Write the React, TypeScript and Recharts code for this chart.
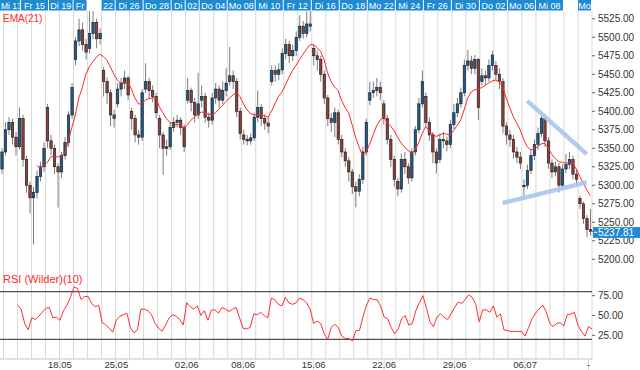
import React from 'react';
import { ComposedChart, Bar, Line, XAxis, YAxis, CartesianGrid, ReferenceLine } from 'recharts';

// ---- candle data (4 candles per trading day, first candle = end of Mi 13) ----
const opens = [
  5322, 5345, 5375, 5385, 5365, 5352, 5390, 5335, 5300, 5283,
  5290, 5312, 5325, 5405, 5360, 5350, 5325, 5318, 5340, 5358,
  5395, 5470, 5495, 5510, 5490, 5485, 5505, 5520, 5498, 5455,
  5440, 5425, 5395, 5410, 5430, 5438, 5445, 5400, 5390, 5368,
  5365, 5430, 5440, 5428, 5420, 5390, 5368, 5350, 5352, 5378,
  5385, 5388, 5378, 5415, 5428, 5412, 5395, 5415, 5420, 5392,
  5388, 5418, 5430, 5415, 5428, 5440, 5448, 5440, 5400, 5368,
  5362, 5360, 5364, 5392, 5405, 5390, 5384, 5440, 5455, 5450,
  5456, 5478, 5490, 5475, 5482, 5500, 5515, 5505, 5518, 5485,
  5475, 5470, 5450, 5418, 5390, 5385, 5398, 5362, 5345, 5333,
  5318, 5298, 5292, 5308, 5345, 5415, 5425, 5428, 5432, 5410,
  5390, 5362, 5335, 5305, 5295, 5335, 5325, 5310, 5345, 5375,
  5410, 5420, 5385, 5368, 5345, 5335, 5362, 5360, 5355, 5382,
  5398, 5410, 5425, 5462, 5468, 5458, 5470, 5440, 5448, 5445,
  5462, 5462, 5450, 5440, 5380, 5368, 5362, 5345, 5338, 5298,
  5300, 5320, 5340, 5355, 5370, 5390, 5360, 5330, 5318, 5325,
  5300, 5322, 5328, 5335, 5315, 5282, 5275, 5255, 5240,
];
const highs = [
  5350, 5385, 5392, 5390, 5372, 5405, 5395, 5340, 5305, 5298,
  5320, 5332, 5358, 5410, 5368, 5355, 5330, 5345, 5365, 5400,
  5438, 5500, 5525, 5520, 5498, 5540, 5545, 5525, 5512, 5460,
  5446, 5430, 5402, 5438, 5445, 5455, 5448, 5405, 5395, 5375,
  5430, 5465, 5445, 5435, 5425, 5395, 5372, 5362, 5385, 5392,
  5395, 5392, 5382, 5445, 5432, 5418, 5452, 5435, 5425, 5398,
  5425, 5438, 5435, 5440, 5458, 5487, 5455, 5445, 5405, 5375,
  5368, 5370, 5398, 5428, 5410, 5396, 5392, 5462, 5462, 5465,
  5485, 5498, 5495, 5490, 5508, 5530, 5522, 5535, 5540, 5490,
  5482, 5475, 5455, 5422, 5398, 5405, 5402, 5368, 5350, 5338,
  5322, 5305, 5315, 5352, 5390, 5440, 5440, 5445, 5440, 5415,
  5395, 5368, 5340, 5310, 5343, 5345, 5330, 5350, 5380, 5418,
  5455, 5425, 5392, 5372, 5350, 5370, 5372, 5366, 5388, 5410,
  5418, 5432, 5470, 5483, 5475, 5476, 5472, 5458, 5455, 5470,
  5482, 5468, 5458, 5445, 5385, 5375, 5368, 5352, 5345, 5308,
  5328, 5348, 5362, 5378, 5398, 5393, 5365, 5335, 5332, 5330,
  5328, 5342, 5345, 5340, 5322, 5286, 5278, 5260, 5268,
];
const lows = [
  5315, 5340, 5368, 5355, 5340, 5348, 5325, 5290, 5262, 5220,
  5282, 5305, 5318, 5350, 5340, 5315, 5270, 5310, 5335, 5352,
  5390, 5462, 5488, 5482, 5470, 5478, 5498, 5485, 5490, 5420,
  5410, 5380, 5378, 5405, 5420, 5430, 5415, 5375, 5358, 5355,
  5360, 5425, 5418, 5412, 5390, 5350, 5314, 5340, 5348, 5372,
  5378, 5368, 5345, 5410, 5400, 5385, 5390, 5405, 5385, 5378,
  5382, 5410, 5405, 5410, 5420, 5435, 5430, 5392, 5362, 5355,
  5354, 5355, 5360, 5385, 5380, 5375, 5370, 5435, 5440, 5442,
  5450, 5470, 5465, 5468, 5475, 5495, 5498, 5500, 5508, 5462,
  5455, 5440, 5410, 5380, 5372, 5365, 5355, 5338, 5325, 5305,
  5288, 5270, 5285, 5302, 5340, 5408, 5418, 5420, 5415, 5382,
  5355, 5325, 5298, 5285, 5290, 5315, 5302, 5305, 5340, 5370,
  5405, 5378, 5360, 5330, 5316, 5330, 5350, 5346, 5350, 5376,
  5392, 5405, 5420, 5455, 5450, 5450, 5388, 5435, 5436, 5440,
  5455, 5442, 5430, 5370, 5355, 5352, 5336, 5330, 5322, 5282,
  5295, 5315, 5334, 5348, 5365, 5352, 5322, 5310, 5312, 5290,
  5295, 5316, 5322, 5308, 5300, 5268, 5248, 5230, 5232,
];
const closes = [
  5345, 5375, 5385, 5365, 5352, 5390, 5335, 5300, 5283, 5290,
  5312, 5325, 5350, 5360, 5350, 5325, 5318, 5340, 5358, 5395,
  5432, 5495, 5510, 5490, 5480, 5505, 5520, 5498, 5505, 5440,
  5425, 5395, 5390, 5430, 5438, 5445, 5422, 5390, 5368, 5365,
  5425, 5440, 5428, 5420, 5398, 5368, 5350, 5352, 5378, 5385,
  5388, 5378, 5352, 5428, 5412, 5395, 5410, 5420, 5392, 5388,
  5418, 5430, 5415, 5428, 5438, 5448, 5440, 5400, 5370, 5362,
  5360, 5364, 5392, 5405, 5390, 5384, 5380, 5455, 5450, 5456,
  5478, 5490, 5475, 5482, 5500, 5515, 5505, 5518, 5515, 5475,
  5470, 5450, 5418, 5390, 5385, 5398, 5362, 5345, 5333, 5318,
  5298, 5292, 5308, 5345, 5385, 5425, 5428, 5432, 5425, 5390,
  5362, 5335, 5308, 5295, 5335, 5325, 5310, 5345, 5375, 5410,
  5440, 5385, 5368, 5345, 5330, 5362, 5360, 5355, 5382, 5398,
  5410, 5425, 5462, 5468, 5458, 5470, 5405, 5448, 5445, 5462,
  5476, 5450, 5440, 5380, 5368, 5362, 5345, 5338, 5330, 5300,
  5320, 5340, 5355, 5370, 5390, 5360, 5330, 5318, 5325, 5300,
  5322, 5328, 5335, 5315, 5308, 5275, 5255, 5240, 5237.81,
];

// EMA(21), starting at candle 10
const EMA_START = 10;
const ema21 = [
  5327, 5323, 5326, 5331, 5338, 5340, 5338, 5340, 5343, 5360,
  5378, 5395, 5418, 5432, 5450, 5460, 5467, 5473, 5477, 5474,
  5469, 5460, 5450, 5442, 5438, 5439, 5440, 5430, 5418, 5410,
  5410, 5415, 5417, 5418, 5418, 5406, 5398, 5390, 5385, 5383,
  5382, 5381, 5378, 5382, 5388, 5392, 5396, 5399, 5398, 5396,
  5395, 5398, 5403, 5408, 5413, 5418, 5422, 5425, 5420, 5410,
  5402, 5397, 5395, 5395, 5395, 5394, 5392, 5400, 5410, 5420,
  5426, 5436, 5446, 5455, 5462, 5470, 5477, 5484, 5490, 5490,
  5486, 5481, 5470, 5452, 5440, 5433, 5428, 5415, 5405, 5398,
  5382, 5365, 5352, 5340, 5345, 5355, 5368, 5380, 5388, 5392,
  5385, 5380, 5374, 5365, 5357, 5352, 5347, 5343, 5348, 5357,
  5370, 5379, 5374, 5369, 5366, 5368, 5370, 5369, 5368, 5374,
  5381, 5388, 5402, 5418, 5426, 5429, 5430, 5432, 5435, 5438,
  5441, 5442, 5440, 5433, 5418, 5405, 5393, 5384, 5375, 5362,
  5352, 5348, 5349, 5352, 5356, 5357, 5350, 5342, 5336, 5332,
  5331, 5330, 5330, 5330, 5322, 5312, 5303, 5294, 5286,
];

// RSI (Wilder)(10), starting at candle 5
const RSI_START = 5;
const rsi10 = [
  63, 58, 40, 32, 47,
  45, 49, 54, 59, 60, 47, 48, 44, 56, 63,
  73, 86, 84, 70, 74, 74, 65, 61, 63, 41,
  38, 34, 29, 44, 49, 51, 53, 35, 28, 32,
  58, 58, 56, 51, 40, 34, 30, 38, 47, 51,
  49, 45, 38, 66, 61, 58, 62, 50, 56, 44,
  57, 57, 53, 60, 58, 55, 58, 60, 47, 34,
  33, 35, 52, 51, 54, 50, 47, 72, 70, 64,
  62, 73, 66, 64, 66, 72, 70, 66, 58, 40,
  43, 40, 27, 20, 35, 39, 35, 24, 21, 21,
  18, 31, 31, 48, 63, 72, 70, 70, 62, 48,
  46, 35, 27, 33, 46, 50, 38, 40, 56, 66,
  75, 60, 42, 36, 48, 52, 48, 45, 52, 60,
  67, 65, 70, 76, 73, 64, 42, 57, 57, 54,
  62, 48, 52, 32, 31, 30, 30, 30, 30, 24,
  35, 46, 53, 58, 63, 55, 40, 36, 40, 41,
  37, 51, 52, 54, 38, 30, 24, 36, 33,
];

// axis / label data
const priceTicks = [5200, 5225, 5250, 5275, 5300, 5325, 5350, 5375, 5400, 5425, 5450, 5475, 5500, 5525];
const rsiTicks = [25, 50, 75];
const rsiLevels = [80, 20];
const headerLabels = ['Mi 13', 'Fr 15', 'Di 19', 'Fr', '22', 'Di 26', 'Do 28', 'Di', '02', 'Do 04', 'Mo 08', 'Mi 10', 'Fr 12', 'Di 16', 'Do 18', 'Mo 22', 'Mi 24', 'Fr 26', 'Di 30', 'Do 02', 'Mo 06', 'Mi 08', 'Mo'];
const headerStart = [0, 6, 14, 21, 29, 33, 41, 49, 53, 57, 65, 73, 81, 89, 97, 105, 113, 121, 129, 137, 145, 153, 165];
const headerEnd = [6, 14, 21, 25, 33, 41, 49, 53, 57, 65, 73, 81, 89, 97, 105, 113, 121, 129, 137, 145, 153, 161, 169];
const bottomLabels = ['18.05', '25.05', '02.06', '08.06', '15.06', '22.06', '29.06', '06.07', '-'];
const bottomTickIdx = [17, 33, 53, 69, 89, 109, 129, 149, 167];
const triangleUpper = [{ i: 150, v: 5414 }, { i: 167, v: 5342 }];
const triangleLower = [{ i: 143, v: 5276 }, { i: 167, v: 5304 }];

// ---- layout constants ----
const W = 640;
const AXIS_W = 48;
const PLOT_W = W - AXIS_W;
const N = closes.length;
const BAND = PLOT_W / N;
const HEADER_H = 11;
const MAIN_H = 272;
const PRICE_DOMAIN: [number, number] = [5182.8, 5535.5];
const PX_PER_PT = (MAIN_H - HEADER_H) / (PRICE_DOMAIN[1] - PRICE_DOMAIN[0]);
const RSI_H = 98;
const BOTTOM_AXIS_H = 11;
const RSI_DOMAIN: [number, number] = [-4.8, 104.8];
const FONT = '"Liberation Sans", Arial, sans-serif';
const LAST = closes[N - 1];

const dayBounds: number[] = [];
for (let k = 1; k <= N; k += 4) dayBounds.push(k);

const data = closes.map((c, i) => ({
  i,
  o: opens[i],
  h: highs[i],
  l: lows[i],
  c,
  range: [lows[i], highs[i]],
  ema: i >= EMA_START ? ema21[i - EMA_START] : null,
  rsi: i >= RSI_START ? rsi10[i - RSI_START] : null,
}));

const gridGen = (props: any) => {
  const left = props && props.offset && typeof props.offset.left === 'number' ? props.offset.left : 0;
  const w = props && props.offset && typeof props.offset.width === 'number' ? props.offset.width : PLOT_W;
  return dayBounds.map((k) => left + (k * w) / N);
};

function Candle(props: any) {
  const { x, y, width, height, payload } = props;
  if (x == null || y == null || !payload) return null;
  const bot = Math.max(y, y + height);
  const yOf = (v: number) => bot - (v - payload.l) * PX_PER_PT;
  const cx = x + width / 2;
  const yo = yOf(payload.o);
  const yc = yOf(payload.c);
  const up = payload.c >= payload.o;
  const bt = Math.min(yo, yc);
  const bh = Math.max(Math.abs(yo - yc), 1);
  return (
    <g>
      <line x1={cx} x2={cx} y1={yOf(payload.h)} y2={bot} stroke="#7d7d7d" strokeWidth={1} />
      <rect x={cx - 1.2} y={bt} width={2.4} height={bh} fill={up ? '#1d5d8e' : '#8e3f3c'} stroke="#151515" strokeWidth={0.6} />
    </g>
  );
}

function HeaderTick(props: any) {
  const { x, payload } = props;
  const k = headerStart.indexOf(payload.value);
  if (k < 0) return null;
  const left = Math.max(0, x - BAND / 2);
  const right = x - BAND / 2 + (headerEnd[k] - headerStart[k]) * BAND - 1;
  const w = right - left;
  const first = k === 0;
  return (
    <g>
      <rect x={left} y={0} width={w} height={10.5} fill="#1e8ad2" />
      <text
        x={first ? left + 1 : left + w / 2}
        y={8.5}
        textAnchor={first ? 'start' : 'middle'}
        fill="#ffffff"
        fontSize={first ? 8.5 : 9}
        fontFamily={FONT}
      >
        {headerLabels[k]}
      </text>
    </g>
  );
}

function PriceTick(props: any) {
  const { x, y, payload } = props;
  const v = payload.value;
  if (v === LAST) {
    return (
      <g>
        <rect x={x - 5} y={y - 4.2} width={W - (x - 5)} height={10.8} fill="#1e8ad2" />
        <line x1={x - 4} x2={x - 1} y1={y + 1} y2={y + 1} stroke="#ffffff" />
        <text x={x} y={y} dy={4.6} fill="#ffffff" fontSize={10} fontFamily={FONT}>{v.toFixed(2)}</text>
      </g>
    );
  }
  return (
    <text x={x} y={y} dy={3.6} fill="#333333" fontSize={10} fontFamily={FONT}>{v.toFixed(2)}</text>
  );
}

function RsiTick(props: any) {
  const { x, y, payload } = props;
  return (
    <text x={x} y={y} dy={3.6} fill="#333333" fontSize={10} fontFamily={FONT}>{payload.value.toFixed(2)}</text>
  );
}

function BottomTick(props: any) {
  const { x, payload } = props;
  const k = bottomTickIdx.indexOf(payload.value);
  if (k < 0) return null;
  return (
    <text x={x} y={RSI_H - 5} dy={3.4} textAnchor="middle" fill="#333333" fontSize={9.5} fontFamily={FONT}>
      {bottomLabels[k]}
    </text>
  );
}

export default function App() {
  return (
    <div style={{ position: 'absolute', left: 0, top: 0, width: W, height: 370, background: '#ffffff', overflow: 'hidden', fontFamily: FONT }}>
      <div style={{ position: 'absolute', left: 0, top: 0 }}>
        <ComposedChart width={W} height={MAIN_H} data={data} margin={{ top: 0, right: 0, bottom: 0, left: 0 }} barCategoryGap={0.5}>
          <CartesianGrid vertical horizontal={false} stroke="#d8d8d8" verticalCoordinatesGenerator={gridGen} />
          <XAxis dataKey="i" orientation="top" height={HEADER_H} ticks={headerStart} interval={0} tick={HeaderTick} axisLine={false} tickLine={false} />
          <YAxis
            orientation="right"
            width={AXIS_W}
            type="number"
            domain={PRICE_DOMAIN}
            allowDataOverflow
            ticks={[...priceTicks, LAST]}
            interval={0}
            tick={PriceTick}
            tickSize={3}
            tickMargin={3}
            tickLine={{ stroke: '#666666' }}
            axisLine={false}
          />
          <Bar dataKey="range" shape={Candle} isAnimationActive={false} />
          <Line dataKey="ema" type="linear" stroke="#ff2626" strokeWidth={1} dot={false} activeDot={false} isAnimationActive={false} />
          <ReferenceLine
            segment={[{ x: triangleUpper[0].i, y: triangleUpper[0].v }, { x: triangleUpper[1].i, y: triangleUpper[1].v }]}
            stroke="#a8c6ec"
            strokeWidth={4.5}
            strokeOpacity={0.9}
          />
          <ReferenceLine
            segment={[{ x: triangleLower[0].i, y: triangleLower[0].v }, { x: triangleLower[1].i, y: triangleLower[1].v }]}
            stroke="#a8c6ec"
            strokeWidth={4.5}
            strokeOpacity={0.9}
          />
        </ComposedChart>
      </div>
      <div style={{ position: 'absolute', left: 0, top: MAIN_H }}>
        <ComposedChart width={W} height={RSI_H} data={data} margin={{ top: 0, right: 0, bottom: 0, left: 0 }}>
          <CartesianGrid vertical horizontal={false} stroke="#d8d8d8" verticalCoordinatesGenerator={gridGen} />
          <XAxis
            dataKey="i"
            height={BOTTOM_AXIS_H}
            ticks={bottomTickIdx}
            interval={0}
            tick={BottomTick}
            axisLine={{ stroke: '#c4c4c4' }}
            tickLine={{ stroke: '#d8d8d8' }}
            tickSize={11}
          />
          <YAxis
            orientation="right"
            width={AXIS_W}
            type="number"
            domain={RSI_DOMAIN}
            allowDataOverflow
            ticks={rsiTicks}
            interval={0}
            tick={RsiTick}
            tickSize={3}
            tickMargin={3}
            tickLine={{ stroke: '#666666' }}
            axisLine={false}
          />
          {rsiLevels.map((lv) => (
            <ReferenceLine key={lv} y={lv} stroke="#505050" strokeWidth={1.2} />
          ))}
          <Line dataKey="rsi" type="linear" stroke="#ff2e2e" strokeWidth={1} dot={false} activeDot={false} isAnimationActive={false} />
        </ComposedChart>
      </div>
      <div style={{ position: 'absolute', left: 3, top: 14, fontSize: 10, lineHeight: '10px', color: '#ff2a2a', whiteSpace: 'nowrap' }}>EMA(21)</div>
      <div style={{ position: 'absolute', left: 3, top: 274, fontSize: 11, lineHeight: '11px', color: '#ff2a2a', whiteSpace: 'nowrap' }}>RSI (Wilder)(10)</div>
    </div>
  );
}
